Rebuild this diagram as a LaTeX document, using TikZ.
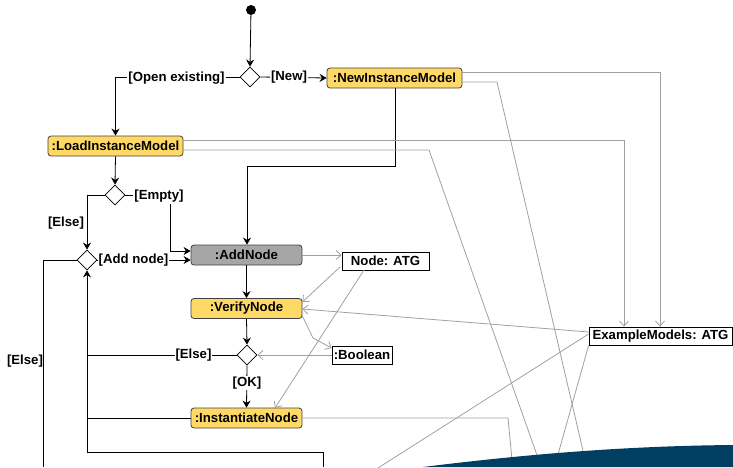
\documentclass[tikz,border=0pt]{standalone}
\usepackage{fontspec}
\setmainfont{Liberation Sans}
\usetikzlibrary{arrows.meta,shapes.geometric}

\definecolor{actfill}{HTML}{FFD966}
\definecolor{actgray}{HTML}{A6A6A6}
\definecolor{flowgray}{HTML}{A0A0A0}
\definecolor{navy}{HTML}{003F62}

\begin{document}
\begin{tikzpicture}[x=1pt,y=-1pt,
  font=\fontsize{13.2}{15}\selectfont\bfseries,
  action/.style={draw=black!75, rounded corners=3pt, fill=actfill, minimum height=20pt, inner sep=0pt, line width=0.8pt},
  object/.style={draw=black, fill=white, minimum height=18pt, inner sep=0pt, line width=0.8pt},
  decision/.style={diamond, draw=black, fill=white, minimum width=20pt, minimum height=20pt, inner sep=0pt, line width=0.8pt},
  flow/.style={draw=black, line width=0.8pt, -{Stealth[length=7pt,width=8pt]}},
  plain/.style={draw=black, line width=0.8pt},
  link/.style={draw=flowgray, line width=0.8pt},
  dataflow/.style={link, -{Straight Barb[length=5pt,width=9pt]}},
  guard/.style={fill=white, inner sep=1pt},
]
\useasboundingbox (0,0) rectangle (733,467);

% initial state and decisions
\fill (251,10) circle (5pt);
\coordinate (start) at (251,10);
\node[decision] (d1) at (250,77) {};
\node[decision] (d2) at (115,195) {};
\node[decision] (d3) at (87,260) {};
\node[decision] (d4) at (247,355) {};

% actions
\node[action, minimum width=135pt] (newim) at (394.5,78) {:NewInstanceModel};
\node[action, minimum width=135pt] (loadim) at (115.5,146) {:LoadInstanceModel};
\node[action, minimum width=111pt, fill=actgray] (add) at (246.5,255) {:AddNode};
\node[action, minimum width=111pt] (verify) at (246.5,308.5) {:VerifyNode};
\node[action, minimum width=111pt] (inst) at (246.5,418) {:InstantiateNode};

% object nodes
\node[object, minimum width=87pt] (natg) at (385.5,261) {Node: ATG};
\node[object, minimum width=60pt] (bool) at (362,355) {:Boolean};
\node[object, minimum width=143pt] (ex) at (660.5,336) {ExampleModels: ATG};

% free ends at the lower border
\coordinate (loopin) at (323,467);
\coordinate (elseout) at (43,467);

% control flow
\draw[flow] (start) -- (d1.north);
\draw[flow] (d1.west) -| (loadim.north);
\node[guard] (gopen) at (176.5,78) {[Open existing]};
\draw[flow] (d1.east) -- (newim.west);
\node[guard] (gnew) at (289,77) {[New]};
\draw[flow] (loadim.south) -- (d2.north);
\draw[flow] (d2.east) -- (170,195) -- (170,251) -- (add.west |- 0,251);
\node[guard] (gempty) at (159,196.5) {[Empty]};
\draw[flow] (d2.west) -| (d3.north);
\node (gelse1) at (66,223) {[Else]};
\draw[flow] (d3.east) -- (add.west |- 0,260);
\node[guard] (gadd) at (133.5,260) {[Add node]};
\draw[flow] (newim.south -| 395,0) -- (395,166) -- (247,166) -- (add.north -| 247,0);
\draw[flow] (add.south) -- (verify.north);
\draw[flow] (verify.south) -- (d4.north);
\draw[plain] (d4.west) -- (87,355);
\node[guard] (gelse2) at (193.5,355) {[Else]};
\draw[flow] (d4.south) -- (inst.north);
\node[guard] (gok) at (247,383) {[OK]};
\draw[plain] (inst.west) -- (87,418);
\draw[flow] (loopin) -- (323,452) -- (87,452) -- (d3.south);
\draw[plain] (d3.west) -- (43,260) -- (elseout);
\node (gelse3) at (25,361) {[Else]};

% object flow
\draw[dataflow] (add.east |- 0,255) -- (natg.west |- 0,255);
\draw[dataflow] (340,267) -- (verify.east |- 0,302);
\draw[dataflow] (364,270) -- (275,408);
\draw[dataflow] (verify.east |- 0,316) -- (313,338) -- (bool.west |- 0,348);
\draw[dataflow] (bool.west) -- (d4.east);
\draw[dataflow] (ex.west |- 0,332) -- (verify.east |- 0,309);
\draw[dataflow] (newim.east |- 0,72) -- (660,72) -- (ex.north -| 660,0);
\draw[dataflow] (loadim.east |- 0,140) -- (624,140) -- (ex.north -| 624,0);
\draw[link] (newim.east |- 0,82) -- (497,82) -- (584,455);
\draw[link] (loadim.east |- 0,150) -- (429,150) -- (538,458);
\draw[link] (ex.west |- 0,334) -- (378,468);
\draw[link] (ex.south west) -- (557,458);
\draw[link] (inst.east) -- (508,418) -- (512,460);

% slide footer band
\fill[navy] (423,467) .. controls (520,455) and (620,446) .. (733,445) -- (733,467) -- cycle;
\end{tikzpicture}
\end{document}
